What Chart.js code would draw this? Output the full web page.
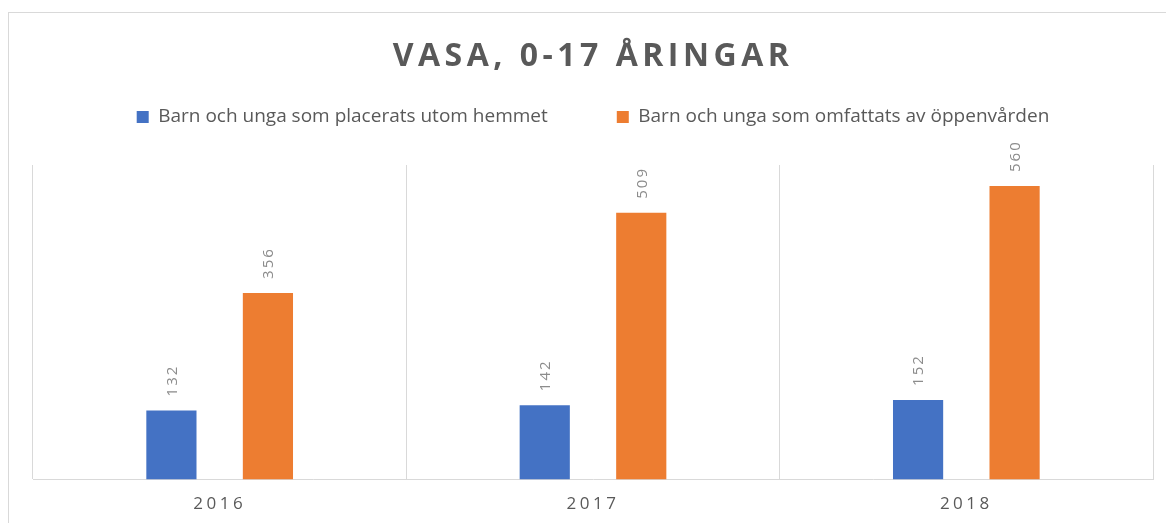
<!DOCTYPE html>
<html>
<head>
<meta charset="utf-8">
<script src="https://cdn.jsdelivr.net/npm/chart.js@4.4.1/dist/chart.umd.min.js"></script>
<style>
  html, body { margin: 0; padding: 0; background: #ffffff; }
  #wrap { position: relative; width: 1166px; height: 523px; overflow: hidden; }
  #frame { position: absolute; left: 8px; top: 12px; width: 1200px; height: 600px; border: 1px solid #d9d9d9; box-sizing: border-box; }
  #c { position: absolute; left: 0; top: 0; }
</style>
</head>
<body>
<div id="wrap">
  <div id="frame"></div>
  <canvas id="c" width="1166" height="523"></canvas>
</div>
<script>
const titleText = 'VASA, 0-17 ÅRINGAR';
const categories = ['2016', '2017', '2018'];
const seriesNames = ['Barn och unga som placerats utom hemmet', 'Barn och unga som omfattats av öppenvården'];
const placerade = [132, 142, 152];
const oppenvard = [356, 509, 560];
const yMin = 0;
const yMax = 600;

const textGray = '#595959';

const spacingPlugin = {
  id: 'spacing',
  beforeDraw(chart) {
    const ctx = chart.ctx;
    ctx.letterSpacing = '3.5px';
    if (chart.legend && !chart.legend._patched) {
      const orig = chart.legend.draw;
      chart.legend.draw = function () {
        const c = this.ctx; const s = c.letterSpacing;
        c.letterSpacing = '0px';
        orig.apply(this, arguments);
        c.letterSpacing = s;
      };
      chart.legend._patched = true;
    }
    if (chart.titleBlock && !chart.titleBlock._patched) {
      const origT = chart.titleBlock.draw;
      chart.titleBlock.draw = function () {
        const c = this.ctx; const s = c.letterSpacing;
        c.letterSpacing = '4.5px';
        origT.apply(this, arguments);
        c.letterSpacing = s;
      };
      chart.titleBlock._patched = true;
    }
  },
  afterDraw(chart) {
    chart.ctx.letterSpacing = '0px';
  }
};

const labelPlugin = {
  id: 'barLabels',
  afterDatasetsDraw(chart) {
    const ctx = chart.ctx;
    chart.data.datasets.forEach((ds, di) => {
      const meta = chart.getDatasetMeta(di);
      meta.data.forEach((bar, i) => {
        ctx.save();
        ctx.letterSpacing = '2px';
        ctx.font = '15px "Open Sans"';
        ctx.fillStyle = '#8c8c8c';
        ctx.translate(bar.x + 1, bar.y - 14);
        ctx.rotate(-Math.PI / 2);
        ctx.textAlign = 'left';
        ctx.textBaseline = 'middle';
        ctx.fillText(String(ds.data[i]), 0, 0);
        ctx.restore();
      });
    });
  }
};

new Chart(document.getElementById('c'), {
  type: 'bar',
  data: {
    labels: categories,
    datasets: [
      { label: seriesNames[0], data: placerade, backgroundColor: '#4472C4', xAxisID: 'x', yAxisID: 'y', categoryPercentage: 0.517, barPercentage: 0.52 },
      { label: seriesNames[1], data: oppenvard, backgroundColor: '#ED7D31', xAxisID: 'x', yAxisID: 'y', categoryPercentage: 0.517, barPercentage: 0.52 }
    ]
  },
  options: {
    responsive: false,
    animation: false,
    layout: { padding: { left: 33, right: 13, top: 0, bottom: -5 } },
    plugins: {
      title: {
        display: true,
        text: titleText,
        color: textGray,
        font: { family: 'Open Sans', size: 32, weight: 'bold' },
        padding: { top: 38, bottom: -37.9 }
      },
      legend: {
        display: true,
        position: 'top',
        labels: {
          color: textGray,
          font: { family: 'Open Sans', size: 19 },
          boxWidth: 12,
          boxHeight: 12,
          padding: 69
        }
      },
      tooltip: { enabled: false }
    },
    scales: {
      x: {
        grid: { display: true, offset: true, color: '#d9d9d9', drawTicks: false },
        border: { display: true, color: '#d9d9d9' },
        ticks: { color: textGray, font: { family: 'Open Sans', size: 17 }, padding: 14 }
      },
      xTop: {
        type: 'category',
        position: 'top',
        display: true,
        grid: { display: false, drawTicks: false },
        border: { display: false },
        ticks: { display: false },
        afterFit(scale) { scale.height = 28.5; }
      },
      y: {
        display: false,
        min: yMin,
        max: yMax
      }
    }
  },
  plugins: [spacingPlugin, labelPlugin]
});
</script>
</body>
</html>
